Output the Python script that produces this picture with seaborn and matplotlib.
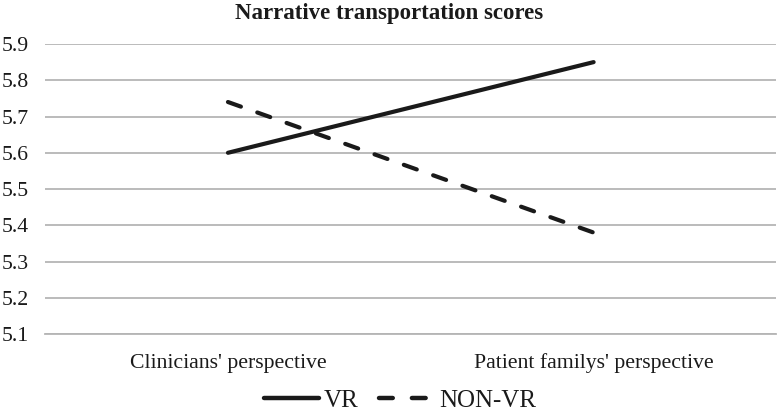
import numpy as np
import pandas as pd
import matplotlib
matplotlib.use("Agg")
import matplotlib.pyplot as plt
import seaborn as sns
from matplotlib.lines import Line2D

categories = ["Clinicians' perspective", "Patient familys' perspective"]
vr_scores = [5.60, 5.85]
nonvr_scores = [5.74, 5.38]
series_names = ["VR", "NON-VR"]
y_ticks = [5.1, 5.2, 5.3, 5.4, 5.5, 5.6, 5.7, 5.8, 5.9]

INK = '#1a1a1a'
DASH = (3.3, 4.17)


def main():
    sns.set_theme(style="white")
    plt.rcParams['font.family'] = ['Liberation Serif', 'DejaVu Serif']

    df = pd.DataFrame({
        'category': categories * 2,
        'score': vr_scores + nonvr_scores,
        'group': [series_names[0]] * 2 + [series_names[1]] * 2,
    })

    fig = plt.figure(figsize=(7.78, 4.11), dpi=100)
    ax = fig.add_axes([0.058, 0.187, 0.94, 0.706])

    sns.lineplot(data=df, x='category', y='score', hue='group', style='group',
                 palette={'VR': INK, 'NON-VR': INK},
                 dashes={'VR': '', 'NON-VR': DASH},
                 linewidth=3.0, ax=ax, legend=False, sort=False)
    for ln in ax.get_lines():
        ln.set_solid_capstyle('round')
        ln.set_dash_capstyle('round')

    ax.set_xlim(-0.5, 1.5)
    ax.set_ylim(5.1, 5.9)
    ax.set_yticks(y_ticks)
    ax.set_yticklabels([f'{t:.1f}' for t in y_ticks])
    ax.yaxis.grid(True, color='#b5b5b5', linewidth=1.3)
    ax.set_axisbelow(True)
    for side in ['left', 'right', 'top']:
        ax.spines[side].set_visible(False)
    ax.spines['bottom'].set_color('#b5b5b5')
    ax.spines['bottom'].set_linewidth(1.3)
    ax.tick_params(axis='both', length=0, labelsize=15.7, colors=INK)
    ax.tick_params(axis='x', pad=14)
    ax.tick_params(axis='y', pad=12)
    ax.set_xlabel('')
    ax.set_ylabel('')

    fig.text(0.5, 0.968, 'Narrative transportation scores', ha='center', va='center',
             fontsize=16.5, fontweight='bold', color=INK)

    handles = [
        Line2D([0], [0], color=INK, lw=3.2, solid_capstyle='round'),
        Line2D([0], [0], color=INK, lw=3.2, dashes=(3.1, 4.3), dash_capstyle='round'),
    ]
    fig.legend(handles, series_names, loc='center', bbox_to_anchor=(0.514, 0.026),
               ncol=2, frameon=False, fontsize=18, handlelength=2.2,
               handletextpad=0.2, columnspacing=0.8, labelcolor=INK,
               borderpad=0.1)

    fig.savefig('out.png', dpi=100)


if __name__ == '__main__':
    main()
